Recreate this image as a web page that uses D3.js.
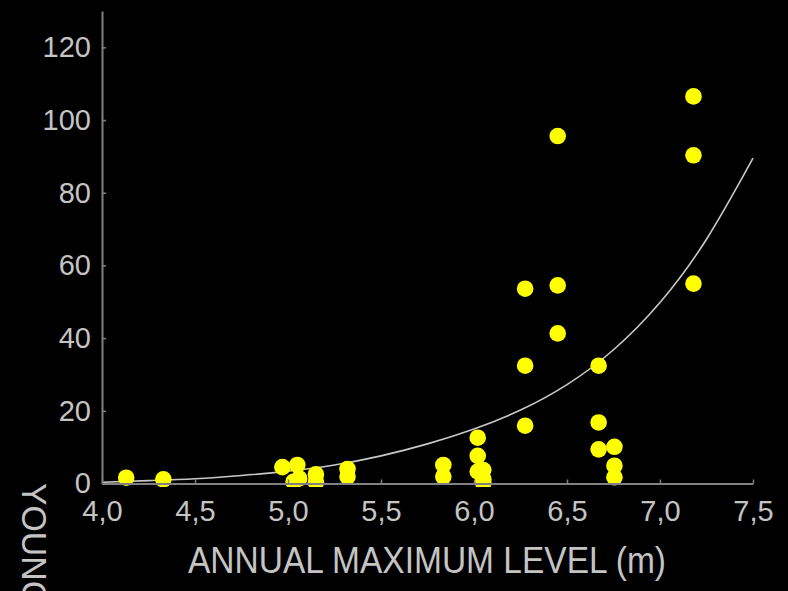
<!DOCTYPE html>
<html>
<head>
<meta charset="utf-8">
<script src="https://cdn.jsdelivr.net/npm/d3@7"></script>
<style>
  html, body { margin: 0; padding: 0; background: #000; }
  svg { display: block; }
  text { font-family: Arial, "Liberation Sans", sans-serif; }
</style>
</head>
<body>
<svg id="chart" width="788" height="591"></svg>
<script>
// Observed water level (m) and number of young per sample
const levels = [4.13, 4.33, 4.97, 5.05, 5.03, 5.06, 5.15, 5.15, 5.32, 5.32,
                5.835, 5.835, 6.02, 6.02, 6.02, 6.05, 6.05, 6.05,
                6.275, 6.275, 6.275, 6.45, 6.45, 6.45,
                6.67, 6.67, 6.67, 6.755, 6.755, 6.755,
                7.18, 7.18, 7.18];
const young = [1.6, 1.15, 4.5, 5.1, 0.5, 1.4, 2.5, 0.4, 4.0, 1.9,
               5.1, 1.9, 12.6, 7.6, 3.3, 3.7, 1.2, 0.2,
               53.6, 32.4, 15.9, 95.6, 54.5, 41.3,
               32.4, 16.8, 9.4, 10.1, 4.9, 1.7,
               106.5, 90.3, 55.0];

// Fitted trend curve, sampled along the level axis
const fitLevels = [4.0, 4.25, 4.5, 4.75, 5.0, 5.25, 5.5, 5.75, 6.0, 6.25, 6.5, 6.75, 7.0, 7.25, 7.5];
const fitYoung  = [0.35, 0.8, 1.3, 2.2, 3.4, 5.1, 7.6, 10.9, 15.0, 20.2, 27.2, 36.8, 49.8, 67.2, 89.5];

// Axis ticks
const xTicks = [4.0, 4.5, 5.0, 5.5, 6.0, 6.5, 7.0, 7.5];
const xTickLabels = ["4,0", "4,5", "5,0", "5,5", "6,0", "6,5", "7,0", "7,5"];
const yTicks = [0, 20, 40, 60, 80, 100, 120];
const yTickLabels = ["0", "20", "40", "60", "80", "100", "120"];

const xTitle = "ANNUAL MAXIMUM LEVEL (m)";
const yTitle = "YOUNG";

const svg = d3.select("#chart");
const W = 788, H = 591;
svg.append("rect").attr("width", W).attr("height", H).attr("fill", "#000");

const x = d3.scaleLinear().domain([4.0, 7.5]).range([102, 753]);
const y = d3.scaleLinear().domain([0, 130]).range([483.5, 11]);

const axisColor = "#808080";
const textColor = "#c4c4c4";

// Clip so markers sitting on zero do not spill far below the axis
svg.append("clipPath").attr("id", "plotClip")
  .append("rect").attr("x", 90).attr("y", 0).attr("width", 690).attr("height", 487);

// Trend curve
const line = d3.line()
  .x((d, i) => x(fitLevels[i]))
  .y((d, i) => y(fitYoung[i]))
  .curve(d3.curveNatural);
svg.append("path")
  .datum(fitYoung)
  .attr("d", line)
  .attr("fill", "none")
  .attr("stroke", "#c8c8c8")
  .attr("stroke-width", 1.6);

// Points
svg.append("g").attr("clip-path", "url(#plotClip)")
  .selectAll("circle")
  .data(levels.map((v, i) => ({ lv: v, n: young[i] })))
  .join("circle")
  .attr("cx", d => x(d.lv))
  .attr("cy", d => y(d.n))
  .attr("r", 8.3)
  .attr("fill", "#ffff00");

// X axis
const xAxis = d3.axisBottom(x)
  .tickValues(xTicks)
  .tickFormat((d, i) => xTickLabels[i])
  .tickSizeInner(-4)
  .tickSizeOuter(0)
  .tickPadding(16.5);
const gx = svg.append("g").attr("transform", `translate(0,${y(0)})`).call(xAxis);

// Y axis
const yAxis = d3.axisLeft(y)
  .tickValues(yTicks)
  .tickFormat((d, i) => yTickLabels[i])
  .tickSizeInner(-4)
  .tickSizeOuter(0)
  .tickPadding(11);
const gy = svg.append("g").attr("transform", `translate(${x(4.0)},0)`).call(yAxis);

[gx, gy].forEach(g => {
  g.select(".domain").attr("stroke", axisColor).attr("stroke-width", 2);
  g.selectAll(".tick line").attr("stroke", axisColor).attr("stroke-width", 1.5);
  g.selectAll(".tick text")
    .attr("fill", textColor)
    .attr("font-size", 29)
    .attr("font-family", "Arial, 'Liberation Sans', sans-serif");
});

// Axis titles
svg.append("text")
  .attr("x", 188)
  .attr("y", 572.5)
  .attr("fill", textColor)
  .attr("font-size", 36)
  .attr("textLength", 478)
  .attr("lengthAdjust", "spacingAndGlyphs")
  .text(xTitle);

svg.append("text")
  .attr("transform", "translate(22,483) rotate(90) scale(0.94,1)")
  .attr("fill", textColor)
  .attr("font-size", 36)
  .text(yTitle);
</script>
</body>
</html>
